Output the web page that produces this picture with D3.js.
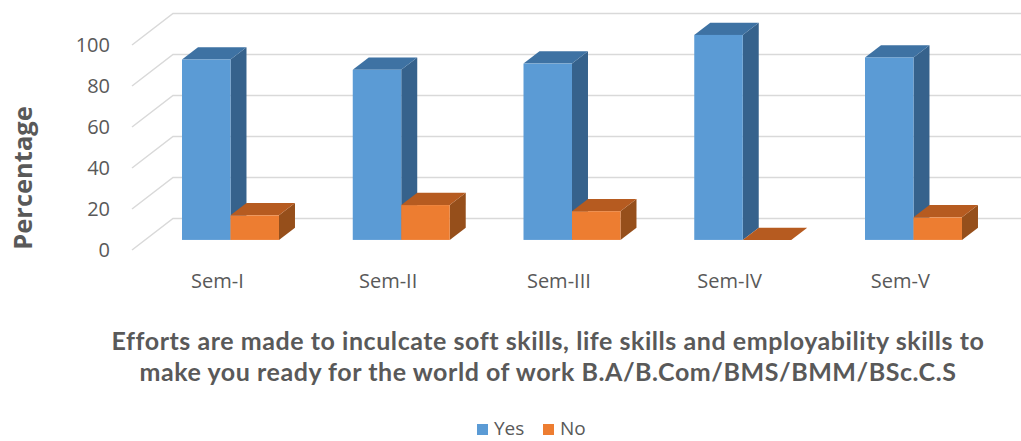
<!DOCTYPE html>
<html lang="en">
<head>
    <meta charset="UTF-8">
    <title>3D Column Chart</title>
    <script src="https://d3js.org/d3.v7.min.js"></script>
    <style>
        body { margin: 0; background: #fff; }
        text { fill: #595959; }
    </style>
</head>
<body>
<svg></svg>
<script>

    // data
    let categories = ["Sem-I", "Sem-II", "Sem-III", "Sem-IV", "Sem-V"];
    let seriesNames = ["Yes", "No"];
    let yesValues = [88, 83, 86, 100, 89];
    let noValues = [12, 17, 14, 0, 11];
    let yTicks = [0, 20, 40, 60, 80, 100];
    let titleLines = [
        "Efforts are made to inculcate soft skills, life skills and employability skills to",
        "make you ready for the world of work B.A/B.Com/BMS/BMM/BSc.C.S"
    ];

    let width = 1021, height = 441;

    let colors = {
        Yes: {front: "#5B9BD5", top: "#3E72A3", side: "#36628C"},
        No: {front: "#ED7D31", top: "#B65B20", side: "#964F1B"}
    };

    let svg = d3.select("svg").attr("width", width).attr("height", height);

    // front plane scales
    let x0 = d3.scaleBand().domain(categories).range([132, 985.75])
        .paddingInner(0.432).paddingOuter(0.216);
    let x1 = d3.scaleBand().domain(seriesNames).range([0, x0.bandwidth()]);
    let y = d3.scaleLinear().domain([0, 100]).range([250, 45]);

    // oblique depth of the whole floor
    let depthX = 41, depthY = -31.5;
    let barFront = 0.32, barBack = 0.71;   // fraction of depth where bars sit

    // gridlines: side wall + back wall
    let grid = svg.append("g").attr("stroke", "#D9D9D9").attr("stroke-width", 1.5).attr("fill", "none");
    yTicks.forEach(function(t) {
        grid.append("path")
            .attr("d", "M" + x0.range()[0] + "," + y(t) +
                "L" + (x0.range()[0] + depthX) + "," + (y(t) + depthY) +
                "L" + (x0.range()[1] + depthX) + "," + (y(t) + depthY));
    });

    // y tick labels
    svg.append("g").selectAll("text").data(yTicks).enter().append("text")
        .attr("x", 110)
        .attr("y", d => y(d))
        .attr("dy", "0.36em")
        .attr("text-anchor", "end")
        .style("font-family", "'Open Sans'")
        .style("font-size", "20px")
        .text(d => d);

    // bars
    let bars = [];
    categories.forEach(function(c, i) {
        bars.push({cat: c, s: "Yes", v: yesValues[i]});
        bars.push({cat: c, s: "No", v: noValues[i]});
    });

    let fdx = depthX * barFront, fdy = depthY * barFront;
    let bdx = depthX * barBack, bdy = depthY * barBack;

    let barG = svg.append("g");
    bars.forEach(function(d) {
        let xl = x0(d.cat) + x1(d.s) + fdx;
        let xr = xl + x1.bandwidth();
        let yb = y(0) + fdy;
        let yt = y(d.v) + fdy;
        let ddx = bdx - fdx, ddy = bdy - fdy;
        let g = barG.append("g");
        // side
        g.append("path")
            .attr("d", "M" + xr + "," + yb + "L" + (xr + ddx) + "," + (yb + ddy) +
                "L" + (xr + ddx) + "," + (yt + ddy) + "L" + xr + "," + yt + "Z")
            .attr("fill", colors[d.s].side);
        // top
        g.append("path")
            .attr("d", "M" + xl + "," + yt + "L" + xr + "," + yt +
                "L" + (xr + ddx) + "," + (yt + ddy) + "L" + (xl + ddx) + "," + (yt + ddy) + "Z")
            .attr("fill", colors[d.s].top);
        // front
        g.append("rect")
            .attr("x", xl).attr("y", yt)
            .attr("width", x1.bandwidth()).attr("height", yb - yt)
            .attr("fill", colors[d.s].front);
    });

    // category labels
    svg.append("g").selectAll("text").data(categories).enter().append("text")
        .attr("x", d => x0(d) + x0.bandwidth() / 2)
        .attr("y", 288)
        .attr("text-anchor", "middle")
        .style("font-family", "'Open Sans'")
        .style("font-size", "20px")
        .text(d => d);

    // axis title
    svg.append("text")
        .attr("transform", "translate(32,178) rotate(-90)")
        .attr("text-anchor", "middle")
        .style("font-family", "'Open Sans'")
        .style("font-weight", "bold")
        .style("font-size", "25.5px")
        .text("Percentage");

    // chart title (below the plot)
    svg.append("g").selectAll("text").data(titleLines).enter().append("text")
        .attr("x", 548)
        .attr("y", (d, i) => 350 + i * 31)
        .attr("text-anchor", "middle")
        .style("font-family", "Lato")
        .style("font-weight", "bold")
        .style("font-size", "25px")
        .style("letter-spacing", "0.55px")
        .text(d => d);

    // legend
    let legend = svg.append("g");
    let legendX = [477, 543];
    seriesNames.forEach(function(s, i) {
        legend.append("rect")
            .attr("x", legendX[i]).attr("y", 424)
            .attr("width", 11).attr("height", 11)
            .attr("fill", colors[s].front);
        legend.append("text")
            .attr("x", legendX[i] + 17).attr("y", 435)
            .style("font-family", "'Open Sans'")
            .style("font-size", "19px")
            .text(s);
    });
</script>
</body>
</html>
